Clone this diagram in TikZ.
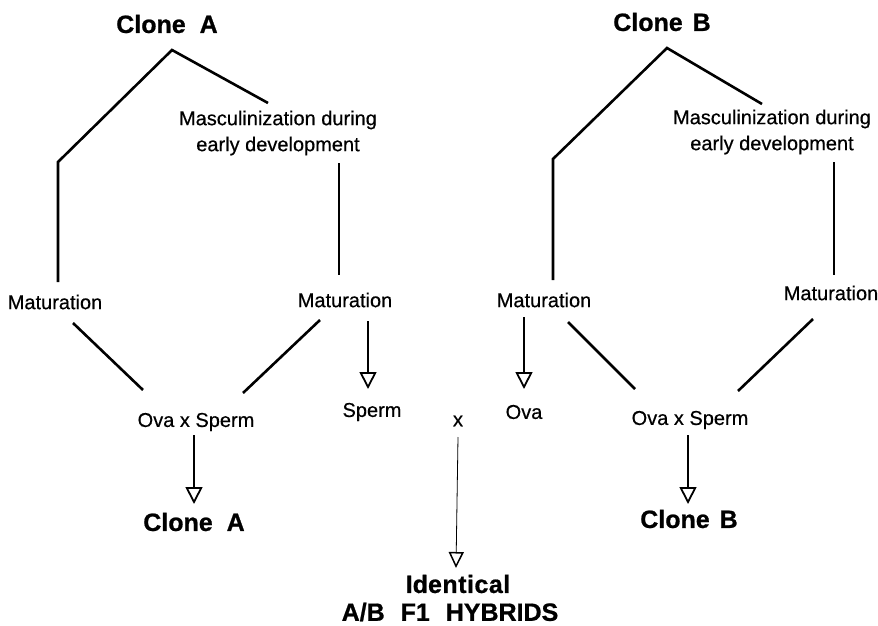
\documentclass[tikz,border=0pt]{standalone}
\usepackage{fontspec}
\setmainfont{Liberation Sans}
\newfontfamily\lblfont[FakeBold=0.5]{Liberation Sans}
\newfontfamily\ttlfont[BoldFeatures={FakeBold=0.8}]{Liberation Sans}
\usetikzlibrary{arrows.meta}
\begin{document}
\begin{tikzpicture}[x=1pt,y=-1pt,
  lbl/.style={inner sep=0pt,font=\lblfont\fontsize{20}{26}\selectfont,align=center},
  ttl/.style={inner sep=0pt,font=\ttlfont\fontsize{25}{29}\selectfont\bfseries,align=center},
  branch/.style={line width=2.6pt},
  stem/.style={line width=1.6pt},
  arr/.style={line width=2pt,-{Triangle[open,length=17pt,width=17pt,line width=1.8pt]}},
  thinarr/.style={line width=0.8pt,-{Triangle[open,length=16pt,width=15pt,line width=1.5pt]}}]
\useasboundingbox (0,0) rectangle (878,626);

% ---- Clone A ----
\node[ttl] (cAt) at (167,24) {Clone\hspace{7pt} A};
\node[lbl] (mA) at (278,133) {Masculinization during\\early development};
\node[lbl] (matAL) at (55,302) {Maturation};
\node[lbl] (matAR) at (345,300) {Maturation};
\node[lbl] (oxsA) at (196,422) {Ova x Sperm};
\node[lbl] (spA) at (372,412) {Sperm};
\node[ttl] (cAb) at (194,522) {Clone\hspace{7pt} A};

\coordinate (apA) at (172,50);
\coordinate (bendA) at (58,162);
\coordinate (vAL) at (58,282);
\coordinate (mAe) at (268,103);
\coordinate (vAR1) at (339,163);
\coordinate (vAR2) at (339,275);
\coordinate (lA1) at (73,323);
\coordinate (lA2) at (143,390);
\coordinate (rA1) at (320,320);
\coordinate (rA2) at (243,393);
\coordinate (sA1) at (368,321);
\coordinate (sA2) at (368,389);
\coordinate (oA1) at (194,435);
\coordinate (oA2) at (194,504);

\draw[branch] (vAL) -- (bendA) -- (apA) -- (mAe);
\draw[stem] (vAR1) -- (vAR2);
\draw[branch] (lA1) -- (lA2);
\draw[branch] (rA1) -- (rA2);
\draw[arr] (sA1) -- (sA2);
\draw[arr] (oA1) -- (oA2);

% ---- centre ----
\node[lbl] (cross) at (458,421) {x};
\node[ttl] (id) at (458,584) {Ide\hspace{0.5pt}n\hspace{0.5pt}t\hspace{0.5pt}i\hspace{0.5pt}c\hspace{0.5pt}a\hspace{0.5pt}l};
\node[ttl] (hyb) at (450,612) {A/B\hspace{9pt} F1\hspace{9pt} HYBRIDS};
\coordinate (x1) at (458,437);
\coordinate (x2) at (456,568);
\draw[thinarr] (x1) -- (x2);

% ---- Clone B ----
\node[ttl] (cBt) at (662,22) {Clone\hspace{3pt} B};
\node[lbl] (mB) at (772,132) {Masculinization during\\early development};
\node[lbl] (matBL) at (544,300) {Maturation};
\node[lbl] (matBR) at (831,293) {Maturation};
\node[lbl] (ovB) at (524,412) {Ova};
\node[lbl] (oxsB) at (690,420) {Ova x Sperm};
\node[ttl] (cBb) at (689,519) {Clone\hspace{3pt} B};

\coordinate (apB) at (667,48);
\coordinate (bendB) at (553,159);
\coordinate (vBL) at (553,280);
\coordinate (mBe) at (762,104);
\coordinate (vBR1) at (834,162);
\coordinate (vBR2) at (834,275);
\coordinate (lB1) at (568,322);
\coordinate (lB2) at (635,389);
\coordinate (rB1) at (813,319);
\coordinate (rB2) at (738,391);
\coordinate (ob1) at (524,317);
\coordinate (ob2) at (524,389);
\coordinate (oB1) at (688,435);
\coordinate (oB2) at (688,504);

\draw[branch] (vBL) -- (bendB) -- (apB) -- (mBe);
\draw[stem] (vBR1) -- (vBR2);
\draw[branch] (lB1) -- (lB2);
\draw[branch] (rB1) -- (rB2);
\draw[arr] (ob1) -- (ob2);
\draw[arr] (oB1) -- (oB2);
\end{tikzpicture}
\end{document}
